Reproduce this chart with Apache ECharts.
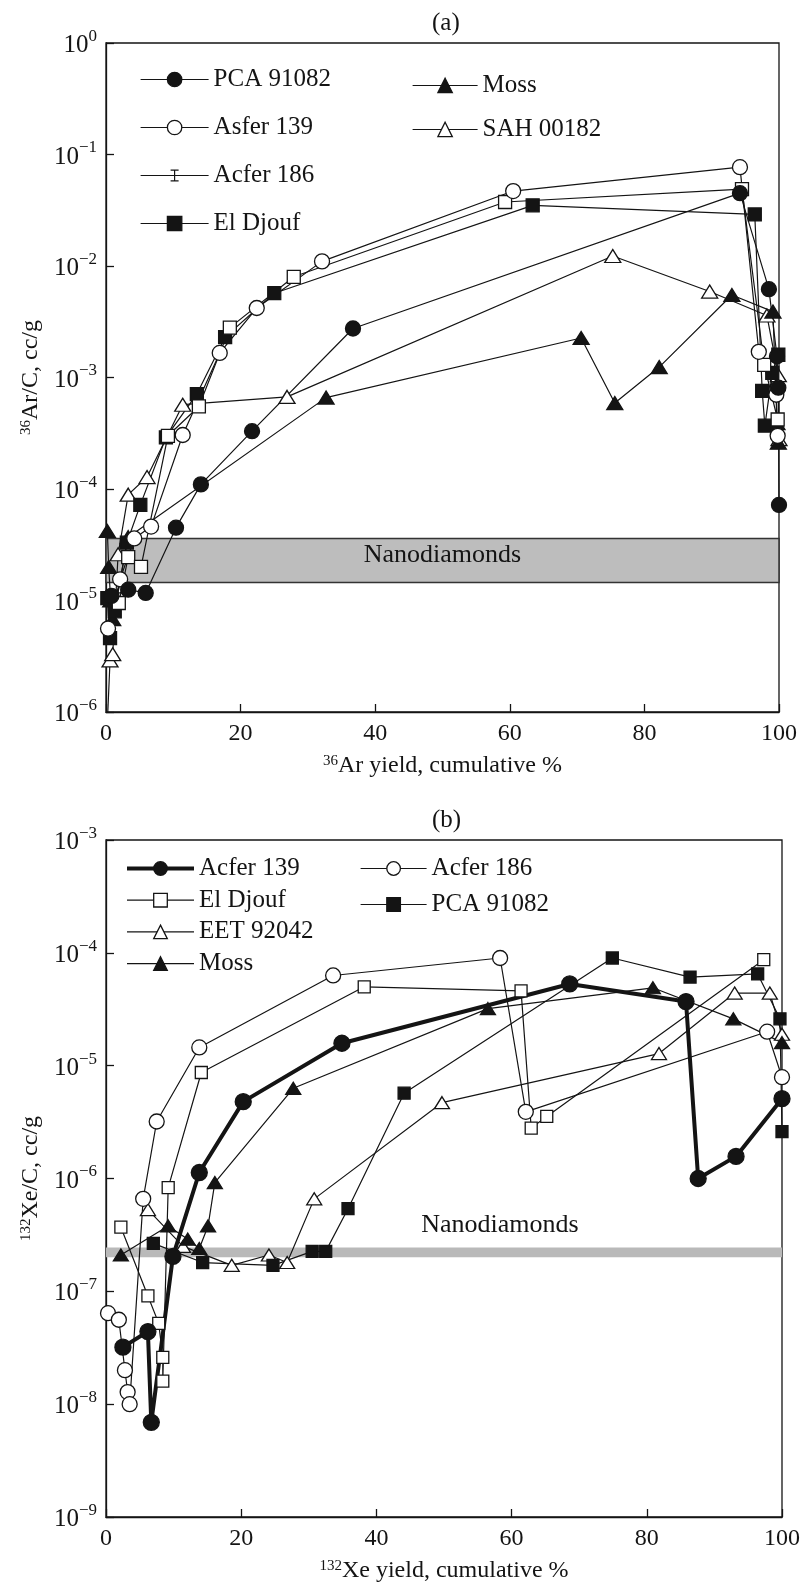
<!DOCTYPE html>
<html>
<head>
<meta charset="utf-8">
<script src="https://cdn.jsdelivr.net/npm/echarts@6/dist/echarts.min.js"></script>
<style>
  html, body { margin: 0; padding: 0; background: #fff; }
  #chartA { width: 803px; height: 790px; }
  #chartB { width: 803px; height: 795px; }
</style>
</head>
<body>
<div id="chartA"></div>
<div id="chartB"></div>
<script>
// ---- (a) 36Ar/C vs 36Ar yield: [cumulative %, cc/g] ----
var pcaA = [[0.8, 1.1e-5], [3.3, 1.25e-5], [5.9, 1.17e-5], [10.4, 4.5e-5], [14.1, 1.1e-4], [21.7, 3.3e-4], [36.7, 2.75e-3], [94.2, 4.5e-2], [98.5, 6.2e-3], [99.7, 1.55e-3], [99.9, 8.1e-4], [100, 7.2e-5]];
var asferA = [[0.3, 5.6e-6], [2.1, 1.55e-5], [4.2, 3.6e-5], [6.7, 4.6e-5], [11.4, 3.05e-4], [16.9, 1.66e-3], [22.4, 4.2e-3], [32.1, 1.1e-2], [60.5, 4.7e-2], [94.2, 7.7e-2], [97.0, 1.7e-3], [99.6, 7e-4], [99.8, 3e-4]];
var acfer186A = [[1.9, 9.5e-6], [3.3, 2.45e-5], [5.2, 2.0e-5], [9.2, 3.0e-4], [13.8, 5.5e-4], [18.4, 2.8e-3], [27.9, 8.0e-3], [59.3, 3.75e-2], [94.5, 4.9e-2], [97.8, 1.3e-3], [99.8, 4.2e-4]];
var djoufA = [[0.2, 1.05e-5], [0.6, 4.6e-6], [1.3, 8e-6], [3.1, 3.3e-5], [5.1, 7.2e-5], [8.9, 2.9e-4], [13.5, 7.1e-4], [17.7, 2.3e-3], [25.0, 5.7e-3], [63.4, 3.5e-2], [96.4, 2.9e-2], [97.5, 7.6e-4], [97.9, 3.7e-4], [99.0, 1.1e-3], [99.9, 1.6e-3]];
var mossA = [[0.2, 4.2e-5], [0.4, 2.0e-5], [0.7, 1.0e-5], [1.0, 6.8e-6], [3.3, 3.7e-5], [32.7, 6.6e-4], [70.6, 2.26e-3], [75.6, 5.9e-4], [82.2, 1.24e-3], [93.0, 5.5e-3], [99.1, 3.9e-3], [99.7, 3.9e-4], [99.9, 2.6e-4]];
var sahA = [[0.2, 8e-7], [0.6, 2.9e-6], [1.0, 3.3e-6], [1.8, 2.6e-5], [3.3, 8.9e-5], [6.1, 1.28e-4], [11.4, 5.7e-4], [26.9, 6.7e-4], [75.3, 1.23e-2], [89.7, 5.9e-3], [98.2, 3.6e-3], [99.9, 1.05e-3], [100, 2.8e-4]];
var nanoA = [1.45e-5, 3.6e-5];

// ---- (b) 132Xe/C vs 132Xe yield ----
var acfer139B = [[2.5, 3.2e-8], [6.2, 4.4e-8], [6.7, 6.9e-9], [9.9, 2.04e-7], [13.8, 1.13e-6], [20.3, 4.8e-6], [34.9, 1.58e-5], [68.6, 5.3e-5], [85.8, 3.7e-5], [87.6, 1.0e-6], [93.2, 1.57e-6], [100, 5.1e-6]];
var acfer186B = [[0.3, 6.4e-8], [1.9, 5.6e-8], [2.8, 2.0e-8], [3.2, 1.28e-8], [3.5, 1.0e-8], [5.5, 6.6e-7], [7.5, 3.2e-6], [13.8, 1.45e-5], [33.6, 6.3e-5], [58.3, 9.0e-5], [62.1, 3.9e-6], [97.8, 2.0e-5], [100, 7.9e-6]];
var djoufB = [[2.2, 3.7e-7], [6.2, 9.1e-8], [7.8, 5.2e-8], [8.4, 2.6e-8], [8.4, 1.6e-8], [9.2, 8.3e-7], [14.1, 8.7e-6], [38.2, 5.0e-5], [61.4, 4.6e-5], [62.9, 2.8e-6], [65.2, 3.55e-6], [97.3, 8.7e-5]];
var pcaB = [[7.0, 2.66e-7], [14.3, 1.8e-7], [24.7, 1.7e-7], [30.5, 2.26e-7], [32.5, 2.26e-7], [35.8, 5.4e-7], [44.1, 5.7e-6], [74.9, 9.0e-5], [86.4, 6.1e-5], [96.4, 6.5e-5], [99.7, 2.6e-5], [100, 2.6e-6]];
var eetB = [[6.2, 5.3e-7], [11.4, 2.5e-7], [18.6, 1.7e-7], [24.1, 2.1e-7], [26.8, 1.8e-7], [30.8, 6.6e-7], [49.7, 4.7e-6], [81.8, 1.28e-5], [93.0, 4.4e-5], [98.2, 4.4e-5], [100, 1.9e-5]];
var mossB = [[2.2, 2.1e-7], [9.2, 3.8e-7], [12.1, 2.9e-7], [13.8, 2.4e-7], [15.1, 3.8e-7], [16.1, 9.2e-7], [27.7, 6.3e-6], [56.5, 3.2e-5], [80.9, 4.9e-5], [92.8, 2.6e-5], [100, 1.6e-5]];
var nanoB = [2.0e-7, 2.45e-7];

var xTicks = [0, 20, 40, 60, 80, 100];

var FONT = 'Liberation Serif';
var INK = '#141414';

// 符号样式
function mk(name, data, shape, filled, size, lw) {
  return {
    name: name,
    type: 'line',
    data: data,
    symbol: shape,
    symbolSize: size,
    showAllSymbol: true,
    clip: true,
    lineStyle: { color: INK, width: lw || 1.2 },
    itemStyle: { color: filled ? INK : '#fff', borderColor: INK, borderWidth: 1.3 },
    emphasis: { disabled: true },
    z: 3
  };
}

function band(range, label) {
  return {
    type: 'line',
    data: [],
    z: 1,
    markArea: {
      silent: true,
      itemStyle: label.itemStyle,
      label: label.label,
      data: [[{ xAxis: 0, yAxis: range[0] }, { xAxis: 100, yAxis: range[1] }]]
    }
  };
}

function powLabel(v) {
  var e = Math.round(Math.log10(v));
  return '{b|10}{s|' + (e < 0 ? '\u2212' + (-e) : e) + '}';
}

function axes(yMin, yMax, yName, xName) {
  return {
    xAxis: {
      type: 'value', min: xTicks[0], max: xTicks[xTicks.length - 1], interval: 20,
      name: xName, nameLocation: 'middle', nameGap: 42,
      nameTextStyle: { fontFamily: FONT, fontSize: 24, color: INK, rich: { s: { fontFamily: FONT, fontSize: 15, color: INK, verticalAlign: 'top' } } },
      axisLine: { show: true, lineStyle: { color: INK, width: 1.3 } },
      axisTick: { show: true, inside: true, length: 8, lineStyle: { color: INK, width: 1.3 } },
      axisLabel: { fontFamily: FONT, fontSize: 24, color: INK, margin: 10 },
      splitLine: { show: false }
    },
    yAxis: {
      type: 'log', logBase: 10, min: yMin, max: yMax, splitNumber: 6,
      name: yName, nameLocation: 'middle', nameGap: 60, nameRotate: 90,
      nameTextStyle: { fontFamily: FONT, fontSize: 24, color: INK, rich: { s: { fontFamily: FONT, fontSize: 15, color: INK, verticalAlign: 'top' } } },
      axisLine: { show: true, lineStyle: { color: INK, width: 1.3 } },
      axisTick: { show: true, inside: true, length: 8, lineStyle: { color: INK, width: 1.3 } },
      axisLabel: {
        margin: 9,
        formatter: powLabel,
        rich: {
          b: { fontFamily: FONT, fontSize: 25, color: INK, lineHeight: 30, verticalAlign: 'bottom' },
          s: { fontFamily: FONT, fontSize: 17, color: INK, lineHeight: 17, verticalAlign: 'top' }
        }
      },
      splitLine: { show: false },
      minorTick: { show: false }
    }
  };
}

var legendText = { fontFamily: FONT, fontSize: 25, color: INK };
// Acfer 186 图例：横线加工字形
var ibeam = 'path://M0,0h0.01v0.01h-0.01z M68,18h-0.01v-0.01h0.01z M0,8.4h68v1.2h-68z M30,3h8v1.2h-8z M33.4,3h1.2v12h-1.2z M30,13.8h8v1.2h-8z';

(function () {
  var ax = axes(1e-6, 1, '{s|36}Ar/C, cc/g', '{s|36}Ar yield, cumulative %');
  var option = {
    animation: false,
    title: { text: '(a)', left: 427, top: 6, textStyle: { fontFamily: FONT, fontSize: 25, fontWeight: 'normal', color: INK } },
    grid: { left: 106, right: 24, top: 43, bottom: 78, show: true, borderColor: INK, borderWidth: 1.3, outerBoundsMode: 'none' },
    legend: [
      {
        left: 135, top: 62, orient: 'vertical', itemWidth: 68, itemHeight: 18, itemGap: 23,
        textStyle: legendText, selectedMode: false,
        itemStyle: { borderWidth: 1.3 }, lineStyle: { width: 1.2 },
        data: ['PCA 91082', 'Asfer 139', { name: 'Acfer 186', icon: ibeam, itemStyle: { color: INK, borderWidth: 0 } }, 'El Djouf']
      },
      {
        left: 407, top: 68, orient: 'vertical', itemWidth: 65, itemHeight: 18, itemGap: 19,
        textStyle: legendText, selectedMode: false,
        itemStyle: { borderWidth: 1.3 }, lineStyle: { width: 1.2 },
        data: ['Moss', 'SAH 00182']
      }
    ],
    xAxis: ax.xAxis,
    yAxis: ax.yAxis,
    series: [
      band(nanoA, {
        itemStyle: { color: '#bdbdbd', borderColor: '#333', borderWidth: 1.5 },
        label: { show: true, position: 'inside', offset: [0, -5], formatter: 'Nanodiamonds', fontFamily: FONT, fontSize: 26, color: INK }
      }),
      mk('SAH 00182', sahA, 'triangle', false, [16, 13]),
      mk('Moss', mossA, 'triangle', true, [16, 13]),
      mk('El Djouf', djoufA, 'rect', true, 13),
      mk('Acfer 186', acfer186A, 'rect', false, 13),
      mk('Asfer 139', asferA, 'circle', false, 15),
      mk('PCA 91082', pcaA, 'circle', true, 15)
    ]
  };
  var chart = echarts.init(document.getElementById('chartA'));
  chart.setOption(option);
})();

(function () {
  var ax = axes(1e-9, 1e-3, '{s|132}Xe/C, cc/g', '{s|132}Xe yield, cumulative %');
  var option = {
    animation: false,
    title: { text: '(b)', left: 427, top: 13, textStyle: { fontFamily: FONT, fontSize: 25, fontWeight: 'normal', color: INK } },
    grid: { left: 106, right: 21, top: 50, bottom: 68, show: true, borderColor: INK, borderWidth: 1.3, outerBoundsMode: 'none' },
    legend: [
      {
        left: 120, top: 61, orient: 'vertical', itemWidth: 67, itemHeight: 17, itemGap: 6.7,
        textStyle: legendText, selectedMode: false,
        itemStyle: { borderWidth: 1.3 }, lineStyle: { width: 1.2 },
        data: [{ name: 'Acfer 139', lineStyle: { width: 4 } }, 'El Djouf', 'EET 92042', 'Moss']
      },
      {
        left: 355, top: 61, orient: 'vertical', itemWidth: 66, itemHeight: 17, itemGap: 11,
        textStyle: legendText, selectedMode: false,
        itemStyle: { borderWidth: 1.3 }, lineStyle: { width: 1.2 },
        data: ['Acfer 186', 'PCA 91082']
      }
    ],
    xAxis: ax.xAxis,
    yAxis: ax.yAxis,
    series: [
      band(nanoB, {
        itemStyle: { color: '#b9b9b9', borderWidth: 0 },
        label: { show: true, position: 'top', offset: [56, -4], formatter: 'Nanodiamonds', fontFamily: FONT, fontSize: 26, color: INK }
      }),
      mk('EET 92042', eetB, 'triangle', false, [15, 12]),
      mk('Moss', mossB, 'triangle', true, [15, 12]),
      mk('El Djouf', djoufB, 'rect', false, 12),
      mk('PCA 91082', pcaB, 'rect', true, 12),
      mk('Acfer 186', acfer186B, 'circle', false, 15),
      mk('Acfer 139', acfer139B, 'circle', true, 16, 4)
    ]
  };
  var chart = echarts.init(document.getElementById('chartB'));
  chart.setOption(option);
})();
</script>
</body>
</html>
